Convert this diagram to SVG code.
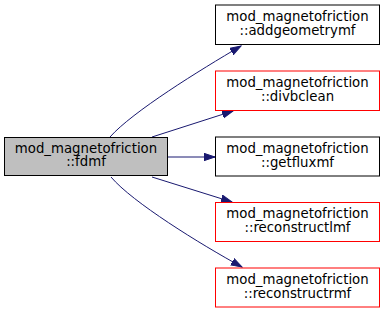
<svg xmlns="http://www.w3.org/2000/svg" width="384" height="313" viewBox="0 0 384 313">
<defs>
<style>
.node rect{fill:#ffffff;stroke:#000000;stroke-width:1}
.node.cur rect{fill:#bfbfbf}
.node.trunc rect{stroke:#ff0000}
.node text{font-family:"DejaVu Sans",sans-serif;font-size:13.3px;text-anchor:middle;fill:#000000}
.edges path{fill:none;stroke:#191970;stroke-width:1}
</style>
<marker id="arr" markerUnits="userSpaceOnUse" markerWidth="12" markerHeight="10" refX="11" refY="4" orient="auto">
<polygon points="0,0.3 11,4 0,7.7" fill="#191970" stroke="#191970" stroke-width="1"/>
</marker>
</defs>
<rect width="384" height="313" fill="#ffffff"/>
<g class="edges" id="edges">
<path d="M110,137 C132,112 200,70 241,46" marker-end="url(#arr)"/>
<path d="M152,137 L233,111" marker-end="url(#arr)"/>
<path d="M168,157 L215,157" marker-end="url(#arr)"/>
<path d="M152,177 L232,202" marker-end="url(#arr)"/>
<path d="M111,177 C132,202 200,244 242,267" marker-end="url(#arr)"/>
</g>
<g class="node cur" id="node_fdmf">
<rect x="4.5" y="137.5" width="163" height="38"/>
<text x="86" y="152.5">mod_magnetofriction</text>
<text x="86" y="166">::fdmf</text>
</g>
<g class="node" id="node_addgeometrymf">
<rect x="215.5" y="5" width="164" height="39.5"/>
<text x="297.5" y="20.5">mod_magnetofriction</text>
<text x="297.5" y="34.5">::addgeometrymf</text>
</g>
<g class="node trunc" id="node_divbclean">
<rect x="215.5" y="71" width="164" height="39.5"/>
<text x="297.5" y="86.5">mod_magnetofriction</text>
<text x="297.5" y="100.5">::divbclean</text>
</g>
<g class="node" id="node_getfluxmf">
<rect x="215.5" y="137" width="164" height="39"/>
<text x="297.5" y="152.5">mod_magnetofriction</text>
<text x="297.5" y="166.5">::getfluxmf</text>
</g>
<g class="node trunc" id="node_reconstructlmf">
<rect x="215.5" y="202.5" width="164" height="39"/>
<text x="297.5" y="218">mod_magnetofriction</text>
<text x="297.5" y="232">::reconstructlmf</text>
</g>
<g class="node trunc" id="node_reconstructrmf">
<rect x="215.5" y="268" width="164" height="39"/>
<text x="297.5" y="283.5">mod_magnetofriction</text>
<text x="297.5" y="297.5">::reconstructrmf</text>
</g>
</svg>
